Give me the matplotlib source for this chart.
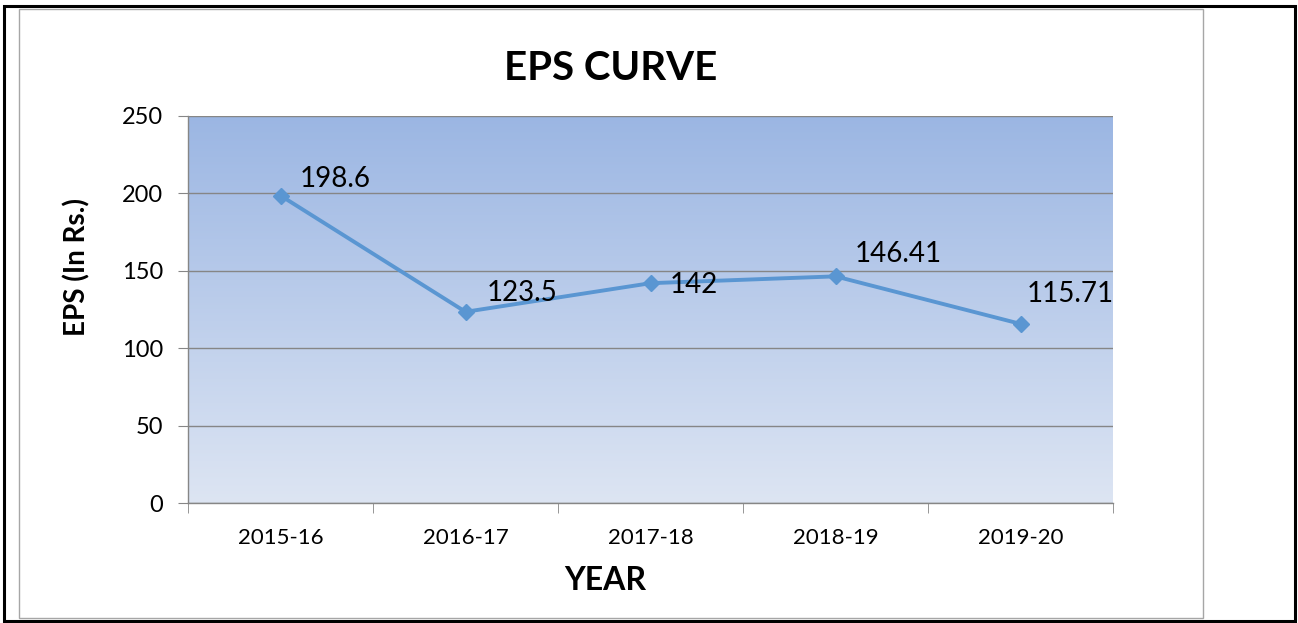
import numpy as np
import matplotlib
matplotlib.use("Agg")
import matplotlib.pyplot as plt
from matplotlib.patches import Rectangle
from matplotlib.colors import LinearSegmentedColormap

years = ["2015-16", "2016-17", "2017-18", "2018-19", "2019-20"]
eps = [198.6, 123.5, 142, 146.41, 115.71]
eps_labels = ["198.6", "123.5", "142", "146.41", "115.71"]

plt.rcParams['font.family'] = ['Lato', 'DejaVu Sans']

W, H = 1298, 623
fig = plt.figure(figsize=(W/100, H/100), dpi=100)

# outer black frame and inner grey chart border
fig.patches.append(Rectangle((4/W, 1 - 621/H), 1291/W, 615/H, transform=fig.transFigure,
                             fill=False, edgecolor='black', linewidth=2.2))
fig.patches.append(Rectangle((19/W, 1 - 618/H), 1184/W, 609/H, transform=fig.transFigure,
                             fill=False, edgecolor='#a6a6a6', linewidth=1.0))

ax = fig.add_axes([188/W, 1 - 503/H, 925/W, 387/H])

# gradient plot background
cmap = LinearSegmentedColormap.from_list('bg', ['#dde5f3', '#9bb6e3'])
grad = np.linspace(0, 1, 256).reshape(-1, 1)
ax.imshow(grad, cmap=cmap, extent=[0, 1, 0, 1], transform=ax.transAxes,
          aspect='auto', origin='lower', zorder=0)

x = np.arange(len(years))
ax.plot(x, eps, color='#5a96d2', linewidth=2.8, marker='D', markersize=8.5, zorder=3)

# label offsets (points) from each marker, left edge / vertical centre
offsets = [(13.5, 13.5), (15.5, 15.5), (14, 0.5), (13.5, 18), (4.5, 23.5)]
for xi, yi, lab, off in zip(x, eps, eps_labels, offsets):
    ax.annotate(lab, (xi, yi), xytext=off, textcoords='offset points',
                fontsize=20, ha='left', va='center_baseline', zorder=4)

ax.set_xlim(-0.5, len(years) - 0.5)
ax.set_ylim(0, 250)
ax.set_yticks(np.arange(0, 251, 50))
ax.set_xticks(x)
ax.set_xticklabels(years)
ax.set_xticks(np.arange(-0.5, len(years)), minor=True)
ax.tick_params(axis='x', which='major', length=0, pad=18, labelsize=16)
ax.tick_params(axis='x', which='minor', length=7, color='#868686', direction='out')
ax.tick_params(axis='y', length=7, color='#868686', direction='out', labelsize=17, pad=11)

ax.grid(axis='y', color='#868686', linewidth=1.0)
ax.set_axisbelow(True)
for s in ['top', 'right']:
    ax.spines[s].set_visible(False)
for s in ['left', 'bottom']:
    ax.spines[s].set_color('#868686')
    ax.spines[s].set_linewidth(1.0)

fig.text(611/W, 1 - 68/H, "EPS CURVE", fontsize=29, fontweight='bold', ha='center', va='center')
fig.text(605/W, 1 - 580/H, "YEAR", fontsize=23, fontweight='bold', ha='center', va='center')
fig.text(77/W, 1 - 267/H, "EPS (In Rs.)", fontsize=20, fontweight='bold', ha='center',
         va='center', rotation=90)

fig.savefig("out.png", dpi=100)
